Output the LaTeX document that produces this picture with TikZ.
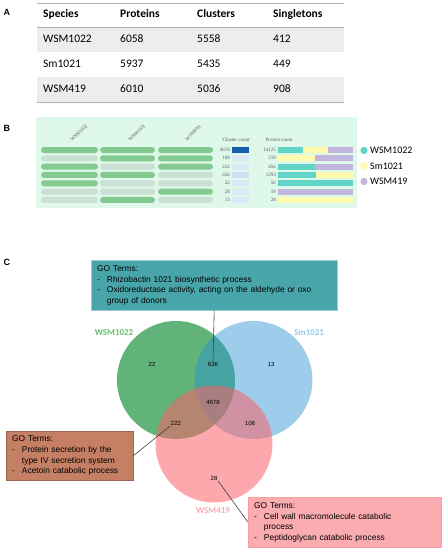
\documentclass[tikz,border=0pt]{standalone}
\usepackage{fontspec}
\setmainfont{Carlito}
\newfontfamily\arialfont{Liberation Sans}
\newfontfamily\tnrfont{Liberation Serif}
\usepackage{array}
\usetikzlibrary{positioning}
\definecolor{rowgray}{RGB}{237,237,237}
\definecolor{rulegray}{RGB}{175,175,175}
\definecolor{mintbg}{RGB}{222,248,234}
\definecolor{barOn}{RGB}{132,202,144}
\definecolor{barOff}{RGB}{202,224,212}
\definecolor{clDark}{RGB}{22,92,172}
\definecolor{clLight}{RGB}{220,233,246}
\definecolor{clMid}{RGB}{204,222,242}
\definecolor{wTeal}{RGB}{96,212,198}
\definecolor{wYellow}{RGB}{255,250,172}
\definecolor{wPurple}{RGB}{192,182,222}
\definecolor{vennGreen}{RGB}{98,179,121}
\definecolor{vennBlue}{RGB}{39,144,211}
\definecolor{vennPink}{RGB}{250,97,104}
\definecolor{labGreen}{RGB}{104,190,112}
\definecolor{labBlue}{RGB}{150,202,236}
\definecolor{labPink}{RGB}{250,170,176}
\definecolor{boxTeal}{RGB}{72,166,170}
\definecolor{boxBrown}{RGB}{196,127,100}
\definecolor{boxPink}{RGB}{250,172,176}

\newcommand{\goterms}[3]{%
  \begin{tabular}{@{}l@{\hspace{7pt}}>{\raggedright\arraybackslash}p{#1}@{}}
    \multicolumn{2}{@{}l}{GO Terms:}\\
    - & #2\\
    - & #3
  \end{tabular}}

\begin{document}
\begin{tikzpicture}[x=1pt, y=-1pt,
        % Text styles
        panel/.style={font=\arialfont\bfseries\fontsize{9}{10}\selectfont},
        cell/.style={anchor=west, inner sep=0pt, font=\fontsize{11.5}{13}\selectfont},
        head/.style={anchor=west, inner sep=0pt, font=\bfseries\fontsize{11.5}{13}\selectfont},
        tiny/.style={inner sep=0pt, text=black!65, font=\tnrfont\fontsize{5}{6}\selectfont},
        legend/.style={anchor=west, inner sep=0pt, font=\fontsize{10}{12}\selectfont},
        vlabel/.style={inner sep=0pt, font=\bfseries\fontsize{9}{11}\selectfont},
        count/.style={inner sep=0.5pt, font=\arialfont\fontsize{6}{7}\selectfont},
        % GO term boxes
        gobox/.style={anchor=north west, inner xsep=6pt, inner ysep=3pt, align=left, font=\arialfont\fontsize{8.4}{10.6}\selectfont},
        link/.style={draw=black!75, line width=0.6pt}
    ]
    \useasboundingbox (0,0) rectangle (443,550);

    % Panel A: summary table
    \node[panel] (labA) at (7,12) {A};
    \fill[rowgray] (37,27) rectangle (344,52);
    \fill[rowgray] (37,77) rectangle (344,102);
    \draw[rulegray, line width=1pt] (37,3) -- (344,3);
    \draw[rulegray, line width=0.8pt] (37,27) -- (344,27);
    \draw[rulegray, line width=1pt] (37,102) -- (344,102);

    \node[head] (hSpecies) at (43,14) {Species};
    \node[head] (hProteins) at (120,14) {Proteins};
    \node[head] (hClusters) at (197,14) {Clusters};
    \node[head] (hSingle) at (273,14) {Singletons};

    \node[cell] (sp1) at (43,39) {WSM1022};
    \node[cell] (pr1) at (120,39) {6058};
    \node[cell] (cl1) at (197,39) {5558};
    \node[cell] (si1) at (273,39) {412};

    \node[cell] (sp2) at (43,64) {Sm1021};
    \node[cell] (pr2) at (120,64) {5937};
    \node[cell] (cl2) at (197,64) {5435};
    \node[cell] (si2) at (273,64) {449};

    \node[cell] (sp3) at (43,89) {WSM419};
    \node[cell] (pr3) at (120,89) {6010};
    \node[cell] (cl3) at (197,89) {5036};
    \node[cell] (si3) at (273,89) {908};

    % Panel B: cluster overview
    \node[panel] (labB) at (7,128) {B};
    \fill[mintbg] (36,117) rectangle (357,208);
    \node[tiny, rotate=45] (colA) at (79,133) {WSM1022};
    \node[tiny, rotate=45] (colB) at (137,133) {WSM1021};
    \node[tiny, rotate=45] (colC) at (193,133) {WSM419};
    \node[tiny] (hCluster) at (236,140) {Cluster count};
    \node[tiny] (hProtein) at (279,140) {Protein count};

    \foreach \i/\a/\b/\c/\n/\m/\cf in {0/barOn/barOn/barOn/4678/14125/clDark,
                                        1/barOff/barOn/barOn/108/219/clLight,
                                        2/barOn/barOff/barOn/222/456/clLight,
                                        3/barOn/barOn/barOff/636/1293/clMid,
                                        4/barOn/barOff/barOff/22/56/clLight,
                                        5/barOff/barOff/barOn/28/59/clLight,
                                        6/barOff/barOn/barOff/13/28/clLight} {
        \pgfmathsetmacro\y{150+8.33*\i}
        \fill[\a, rounded corners=3pt] (41,\y-3) rectangle (98,\y+3);
        \fill[\b, rounded corners=3pt] (100,\y-3) rectangle (155,\y+3);
        \fill[\c, rounded corners=3pt] (158,\y-3) rectangle (213,\y+3);
        \fill[\cf] (232,\y-3) rectangle (249,\y+3);
        \node[tiny, anchor=east] (cnt\i) at (230,\y) {\n};
        \node[tiny, anchor=east] (prot\i) at (276,\y) {\m};
    }
    \foreach \i/\xa/\xb/\cc in {0/278/303/wTeal, 0/303/328/wYellow, 0/328/353/wPurple,
                                1/278/315/wYellow, 1/315/353/wPurple,
                                2/278/315/wTeal, 2/315/353/wPurple,
                                3/278/316/wTeal, 3/316/353/wYellow,
                                4/278/353/wTeal, 5/278/353/wPurple, 6/278/353/wYellow} {
        \pgfmathsetmacro\y{150+8.33*\i}
        \fill[\cc] (\xa,\y-3) rectangle (\xb,\y+3);
    }

    % Legend
    \fill[wTeal] (364,150.5) circle (3.6);
    \fill[wYellow] (364,166) circle (3.6);
    \fill[wPurple] (364,181.5) circle (3.6);
    \node[legend] (legA) at (370,150.5) {WSM1022};
    \node[legend] (legB) at (370,166) {Sm1021};
    \node[legend] (legC) at (370,181.5) {WSM419};

    % Panel C: Venn diagram
    \node[panel] (labC) at (7,262) {C};
    \fill[vennGreen] (176,380) circle (59);
    \fill[vennBlue, fill opacity=0.45] (253.5,380) circle (59);
    \fill[vennPink, fill opacity=0.55] (214,444) circle (58.5);

    \node[vlabel, text=labGreen] (vA) at (114,333) {WSM1022};
    \node[vlabel, text=labBlue] (vB) at (309,333) {Sm1021};
    \node[vlabel, text=labPink] (vC) at (213,511) {WSM419};

    \node[count] (n22) at (152,364) {22};
    \node[count] (n636) at (213,364) {636};
    \node[count] (n13) at (271,364) {13};
    \node[count] (n4678) at (213,402) {4678};
    \node[count] (n222) at (176,423) {222};
    \node[count] (n108) at (250,423) {108};
    \node[count] (n28) at (214,478) {28};

    % GO term boxes
    \node[gobox, fill=boxTeal, draw=boxTeal!55!white, text width=234pt, minimum height=50pt] (goTop) at (91,260)
        {\goterms{214pt}{Rhizobactin 1021 biosynthetic process}{Oxidoreductase activity, acting on the aldehyde or oxo group of donors}};
    \node[gobox, fill=boxBrown, draw=boxBrown!80!black, text width=115pt, minimum height=49pt] (goLeft) at (6,431)
        {\goterms{98pt}{Protein secretion by the type IV secretion system}{Acetoin catabolic process}};
    \node[gobox, fill=boxPink, draw=boxPink!90!red, text width=181pt, minimum height=50pt] (goRight) at (248,497)
        {\goterms{140pt}{Cell wall macromolecule catabolic process}{Peptidoglycan catabolic process}};

    % Links from counts to boxes
    \draw[link] (goTop.south) -- (n636.north);
    \draw[link] (n222.south west) -- (goLeft.east);
    \draw[link] (n28.south east) -- (goRight.west);
\end{tikzpicture}
\end{document}
